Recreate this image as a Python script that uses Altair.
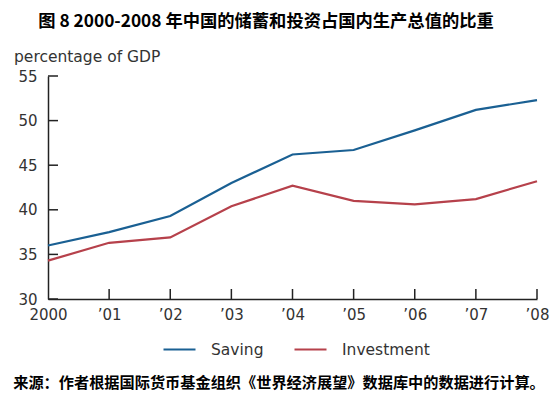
import altair as alt
import pandas as pd

years = [2000, 2001, 2002, 2003, 2004, 2005, 2006, 2007, 2008]
saving = [36.0, 37.5, 39.3, 43.0, 46.2, 46.7, 48.9, 51.2, 52.3]
investment = [34.3, 36.3, 36.9, 40.4, 42.7, 41.0, 40.6, 41.2, 43.2]
series_names = ["Saving", "Investment"]
series_colors = ["#1a6093", "#b6414b"]
y_ticks = [30, 35, 40, 45, 50, 55]
x_tick_years = years[1:]

title_text = "图 8 2000-2008 年中国的储蓄和投资占国内生产总值的比重"
y_title = "percentage of GDP"
source_text = "来源：作者根据国际货币基金组织《世界经济展望》数据库中的数据进行计算。"

W, H = 489, 223
AX = "#222222"
LBL = "#333333"
FONT = "DejaVu Sans"
CJK = "Noto Sans CJK SC"

df = pd.DataFrame({
    "year": years + years,
    "value": saving + investment,
    "series": [series_names[0]] * len(years) + [series_names[1]] * len(years),
})

xscale = alt.Scale(domain=[2000, 2008], nice=False, zero=False)
yscale = alt.Scale(domain=[30, 55], nice=False, zero=False)

xaxis = alt.Axis(
    values=years,
    labelExpr="datum.value == 2000 ? '2000' : '\u2019' + substring(toString(datum.value), 2, 4)",
    title=None, ticks=False, grid=False, labelPadding=8,
    domainColor=AX, domainWidth=1.5, labelFont=FONT, labelFontSize=15,
    labelColor=LBL, labelFlush=False)
yaxis = alt.Axis(
    values=y_ticks, title=None, ticks=False, grid=False, labelPadding=11,
    domainColor=AX, domainWidth=1.5, labelFont=FONT, labelFontSize=15,
    labelColor=LBL)

lines = alt.Chart(df).mark_line(strokeWidth=2.2).encode(
    x=alt.X("year:Q", scale=xscale, axis=xaxis),
    y=alt.Y("value:Q", scale=yscale, axis=yaxis),
    color=alt.Color("series:N", scale=alt.Scale(domain=series_names, range=series_colors),
                    legend=alt.Legend(
                        orient="none", legendX=114, legendY=256, direction="horizontal",
                        title=None, symbolType="stroke", symbolSize=1024,
                        symbolStrokeWidth=2.2, labelFont=FONT, labelFontSize=15.5,
                        labelColor=LBL, labelOffset=14, columnPadding=26, padding=0)),
)

yt = alt.Chart(pd.DataFrame({"v": y_ticks})).mark_rule(color=AX, strokeWidth=1.5).encode(
    y=alt.Y("v:Q", scale=yscale, axis=yaxis),
    x=alt.value(0), x2=alt.value(10),
)

xt = alt.Chart(pd.DataFrame({"yr": x_tick_years})).mark_rule(color=AX, strokeWidth=1.5).encode(
    x=alt.X("yr:Q", scale=xscale, axis=xaxis),
    y=alt.value(H), y2=alt.value(H - 10),
)

title_layer = alt.Chart(pd.DataFrame({"t": [title_text]})).mark_text(
    font=CJK, fontSize=17.3, fontWeight="bold", color="#000000",
    align="center", baseline="middle",
).encode(text="t:N", x=alt.value(218), y=alt.value(-54))

ytitle_layer = alt.Chart(pd.DataFrame({"t": [y_title]})).mark_text(
    font=FONT, fontSize=15.5, color=LBL, align="left", baseline="alphabetic",
).encode(text="t:N", x=alt.value(-34), y=alt.value(-14))

source_layer = alt.Chart(pd.DataFrame({"t": [source_text]})).mark_text(
    font=CJK, fontSize=15.2, fontWeight="bold", color="#000000",
    align="center", baseline="middle",
).encode(text="t:N", x=alt.value(231), y=alt.value(307))

chart = alt.layer(lines, yt, xt, title_layer, ytitle_layer, source_layer).properties(
    width=W, height=H,
    autosize=alt.AutoSizeParams(type="none"),
    padding={"left": 40, "top": 68, "right": 13, "bottom": 92},
    background="white",
).configure_view(stroke=None)

chart.save("out.html", embed_options={"renderer": "svg", "actions": False})
